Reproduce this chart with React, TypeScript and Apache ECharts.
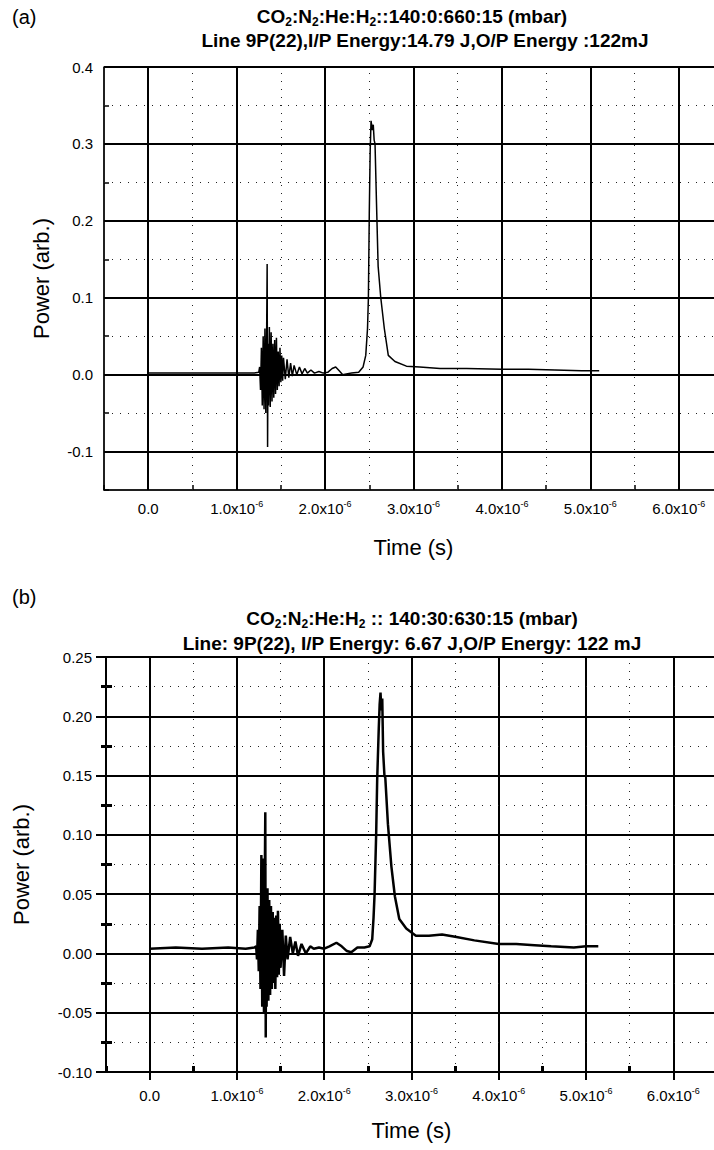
import React, { useEffect, useRef } from "react";
import * as echarts from "echarts";

// time values in microseconds (axis labels show them as n.0x10^-6 s)
const timeA = [
  0, 0.3, 0.6, 0.9, 1.1, 1.2, 1.25,
  1.26, 1.27, 1.28, 1.29, 1.3, 1.31, 1.32, 1.33, 1.34, 1.345, 1.35, 1.355, 1.36, 1.37,
  1.38, 1.39, 1.4, 1.41, 1.42, 1.43, 1.44, 1.45, 1.46, 1.47, 1.48, 1.49, 1.5, 1.51,
  1.52, 1.53, 1.55, 1.57, 1.59, 1.61, 1.63, 1.65, 1.68, 1.71, 1.74, 1.77, 1.8, 1.84,
  1.88, 1.93, 1.98, 2.03, 2.08, 2.12, 2.16, 2.2, 2.24, 2.3, 2.38, 2.43, 2.46, 2.48,
  2.49, 2.5, 2.51, 2.52, 2.535, 2.545, 2.555, 2.565, 2.58, 2.6, 2.63, 2.67, 2.715,
  2.79, 2.92, 3.07, 3.3, 3.6, 4.0, 4.3, 4.6, 4.9, 5.1,
];
const powerA = [
  0.002, 0.002, 0.002, 0.002, 0.002, 0.002, 0.003,
  0.01, -0.02, 0.035, -0.04, 0.05, -0.045, 0.06, -0.05, 0.065, 0.144, -0.094, 0.04, -0.04, 0.062,
  -0.042, 0.055, -0.035, 0.04, -0.03, 0.045, -0.025, 0.048, -0.02, 0.03, -0.015, 0.035, -0.01, 0.025,
  -0.008, 0.022, -0.006, 0.02, -0.004, 0.015, -0.002, 0.012, 0.0, 0.01, 0.001, 0.008, 0.002, 0.006,
  0.002, 0.004, 0.002, 0.003, 0.008, 0.01, 0.005, 0.0, 0.001, 0.002, 0.003, 0.01, 0.025, 0.06,
  0.1, 0.21, 0.29, 0.33, 0.318, 0.325, 0.305, 0.3, 0.23, 0.141, 0.1, 0.06, 0.025,
  0.017, 0.011, 0.01, 0.008, 0.008, 0.007, 0.007, 0.006, 0.005, 0.005,
];

const timeB = [
  0, 0.3, 0.6, 0.9, 1.1, 1.2,
  1.22, 1.23, 1.24, 1.25, 1.26, 1.27, 1.28, 1.29, 1.3, 1.31, 1.32, 1.325, 1.33, 1.335,
  1.34, 1.35, 1.36, 1.37, 1.38, 1.39, 1.4, 1.41, 1.42, 1.43, 1.44, 1.45, 1.46, 1.47,
  1.48, 1.49, 1.5, 1.52, 1.54, 1.56, 1.58, 1.61, 1.64, 1.67, 1.7, 1.74, 1.79, 1.84,
  1.88, 1.94, 2.0, 2.06, 2.14, 2.2, 2.26, 2.31, 2.38, 2.46, 2.52, 2.55, 2.565, 2.577,
  2.595, 2.607, 2.625, 2.635, 2.645, 2.655, 2.665, 2.675, 2.69, 2.7, 2.73, 2.77, 2.81,
  2.86, 2.94, 3.05, 3.2, 3.35, 3.5, 3.72, 4.0, 4.2, 4.41, 4.6, 4.86, 5.0, 5.14,
];
const powerB = [
  0.004, 0.005, 0.004, 0.005, 0.004, 0.005,
  0.006, -0.005, 0.02, -0.015, 0.04, -0.03, 0.083, -0.045, 0.08, -0.05, 0.07, 0.119, -0.071, 0.05,
  -0.045, 0.055, -0.04, 0.045, -0.035, 0.04, -0.03, 0.035, -0.025, 0.03, -0.03, 0.032, -0.02, 0.036,
  -0.018, 0.025, -0.012, 0.02, -0.019, 0.015, -0.005, 0.014, 0.0, 0.01, -0.002, 0.008, 0.0, 0.006,
  0.004, 0.005, 0.004, 0.006, 0.009, 0.006, 0.002, 0.001, 0.005, 0.005, 0.006, 0.012, 0.03, 0.05,
  0.1, 0.147, 0.19, 0.21, 0.22, 0.205, 0.215, 0.17, 0.15, 0.148, 0.109, 0.073, 0.048,
  0.029, 0.021, 0.015, 0.015, 0.016, 0.014, 0.011, 0.008, 0.008, 0.007, 0.006, 0.005, 0.006, 0.006,
];

// axis ticks (time in microseconds)
const xMajor = [0, 1, 2, 3, 4, 5, 6];
const xMinor = [-0.5, 0.5, 1.5, 2.5, 3.5, 4.5, 5.5, 6.5];
const yMajorA = [-0.1, 0.0, 0.1, 0.2, 0.3, 0.4];
const yMinorA = [-0.15, -0.05, 0.05, 0.15, 0.25, 0.35];
const yMajorB = [-0.1, -0.05, 0.0, 0.05, 0.1, 0.15, 0.2, 0.25];
const yMinorB = [-0.075, -0.025, 0.025, 0.075, 0.125, 0.175, 0.225];

const titleA1 = "{b|CO}{s|2}{b|:N}{s|2}{b|:He:H}{s|2}{b|::140:0:660:15 (mbar)}";
const titleA2 = "{b|Line 9P(22),I/P Energy:14.79 J,O/P Energy :122mJ}";
const titleB1 = "{b|CO}{s|2}{b|:N}{s|2}{b|:He:H}{s|2}{b| :: 140:30:630:15 (mbar)}";
const titleB2 = "{b|Line: 9P(22), I/P Energy: 6.67 J,O/P Energy: 122 mJ}";

const FONT = "'Liberation Sans', Arial, Helvetica, sans-serif";

const xLabelFmt = (v: number) => {
  const u = Math.round(v * 10) / 10;
  if (u === 0) return "{b|0.0}";
  return "{b|" + u.toFixed(1) + "x10}{sup|-6}";
};

const xRich = {
  b: { fontSize: 15, lineHeight: 18, color: "#000", fontFamily: FONT },
  sup: { fontSize: 9, verticalAlign: "top", color: "#000", fontFamily: FONT },
};

const titleRich = {
  b: { fontSize: 19, fontWeight: "bold", lineHeight: 24, color: "#000", fontFamily: FONT },
  s: { fontSize: 12, fontWeight: "bold", verticalAlign: "bottom", color: "#000", fontFamily: FONT },
};

function gridLines(xi: number, yMaj: number[], yMin: number[]) {
  const major = { color: "#000", width: 2, type: "solid" };
  const minor = { color: "#222", width: 1, type: [1, 7] };
  return {
    type: "line",
    xAxisIndex: xi,
    yAxisIndex: xi,
    data: [],
    showSymbol: false,
    silent: true,
    z: 1,
    markLine: {
      silent: true,
      symbol: ["none", "none"],
      label: { show: false },
      animation: false,
      precision: 4,
      data: [
        ...xMajor.map((v) => ({ xAxis: v, lineStyle: major })),
        ...xMinor.slice(1, -1).map((v) => ({ xAxis: v, lineStyle: minor })),
        ...yMaj.map((v) => ({ yAxis: v, lineStyle: major })),
        ...yMin.map((v) => ({ yAxis: v, lineStyle: minor })),
      ],
    },
  };
}

function buildOption() {
  const nameStyle = { fontSize: 22, color: "#000", fontFamily: FONT };
  return {
    animation: false,
    backgroundColor: "#fff",
    textStyle: { fontFamily: FONT, color: "#000" },
    grid: [
      { left: 104, top: 67, width: 619, height: 423, show: true, borderColor: "#000", borderWidth: 1 },
      { left: 106, top: 657, width: 611, height: 415, show: true, borderColor: "#000", borderWidth: 1.5 },
    ],
    xAxis: [
      {
        type: "value", gridIndex: 0, min: -0.5, max: 6.5, position: "bottom",
        axisLine: { show: true, onZero: false, lineStyle: { color: "#000", width: 1.5 } },
        axisTick: { show: true, inside: true, length: 5, customValues: [...xMajor, ...xMinor], lineStyle: { color: "#000", width: 1.5 } },
        axisLabel: { customValues: xMajor, formatter: xLabelFmt, rich: xRich, margin: 9 },
        splitLine: { show: false },
        name: "Time (s)", nameLocation: "middle", nameGap: 46, nameTextStyle: nameStyle,
      },
      {
        type: "value", gridIndex: 1, min: -0.5, max: 6.5, position: "bottom",
        axisLine: { show: true, onZero: false, lineStyle: { color: "#000", width: 2 } },
        axisTick: { show: true, inside: false, length: 8, customValues: xMajor, lineStyle: { color: "#000", width: 2 } },
        axisLabel: { customValues: xMajor, formatter: xLabelFmt, rich: xRich, margin: 14 },
        splitLine: { show: false },
        name: "Time (s)", nameLocation: "middle", nameGap: 47, nameTextStyle: nameStyle,
      },
      {
        type: "value", gridIndex: 1, min: -0.5, max: 6.5, position: "bottom",
        axisLine: { show: false, onZero: false },
        axisTick: { show: true, inside: true, length: 6, customValues: xMinor, lineStyle: { color: "#000", width: 3 } },
        axisLabel: { show: false },
        splitLine: { show: false },
      },
    ],
    yAxis: [
      {
        type: "value", gridIndex: 0, min: -0.15, max: 0.4, position: "left",
        axisLine: { show: true, onZero: false, lineStyle: { color: "#000", width: 1.5 } },
        axisTick: { show: true, inside: true, length: 5, customValues: [...yMajorA, ...yMinorA], lineStyle: { color: "#000", width: 1.5 } },
        axisLabel: { customValues: yMajorA, formatter: (v: number) => v.toFixed(1), fontSize: 15, color: "#000", margin: 11, fontFamily: FONT },
        splitLine: { show: false },
        name: "Power (arb.)", nameLocation: "middle", nameGap: 52, nameTextStyle: nameStyle,
      },
      {
        type: "value", gridIndex: 1, min: -0.1, max: 0.25, interval: 0.05, position: "left",
        axisLine: { show: true, onZero: false, lineStyle: { color: "#000", width: 2 } },
        axisTick: { show: true, inside: false, length: 10, lineStyle: { color: "#000", width: 2 } },
        minorTick: { show: true, splitNumber: 2, length: 5, lineStyle: { color: "#000", width: 3 } },
        axisLabel: { formatter: (v: number) => v.toFixed(2), fontSize: 15, color: "#000", margin: 14, fontFamily: FONT },
        splitLine: { show: false },
        name: "Power (arb.)", nameLocation: "middle", nameGap: 74, nameTextStyle: nameStyle,
      },
      {
        type: "value", gridIndex: 1, min: -0.1, max: 0.25, position: "left",
        axisLine: { show: false, onZero: false },
        axisTick: { show: true, inside: true, length: 6, customValues: yMinorB, lineStyle: { color: "#000", width: 3 } },
        axisLabel: { show: false },
        splitLine: { show: false },
      },
    ],
    graphic: [
      { type: "text", x: 12, y: 17, style: { text: "(a)", fontSize: 20, fontFamily: FONT, fill: "#000", align: "left", verticalAlign: "middle" } },
      { type: "text", x: 412, y: 16, style: { text: titleA1, rich: titleRich, align: "center", verticalAlign: "middle" } },
      { type: "text", x: 425, y: 40, style: { text: titleA2, rich: titleRich, align: "center", verticalAlign: "middle" } },
      { type: "text", x: 12, y: 597, style: { text: "(b)", fontSize: 20, fontFamily: FONT, fill: "#000", align: "left", verticalAlign: "middle" } },
      { type: "text", x: 412, y: 618, style: { text: titleB1, rich: titleRich, align: "center", verticalAlign: "middle" } },
      { type: "text", x: 412, y: 643, style: { text: titleB2, rich: titleRich, align: "center", verticalAlign: "middle" } },
    ],
    series: [
      gridLines(0, yMajorA, yMinorA.slice(1)),
      {
        type: "line", xAxisIndex: 0, yAxisIndex: 0, z: 5,
        data: timeA.map((t, i) => [t, powerA[i]]),
        showSymbol: false, symbol: "none",
        lineStyle: { color: "#000", width: 1.5 },
      },
      gridLines(1, yMajorB, yMinorB),
      {
        type: "line", xAxisIndex: 1, yAxisIndex: 1, z: 5,
        data: timeB.map((t, i) => [t, powerB[i]]),
        showSymbol: false, symbol: "none",
        lineStyle: { color: "#000", width: 2.5 },
      },
    ],
  };
}

export default function App() {
  const ref = useRef<HTMLDivElement>(null);
  useEffect(() => {
    if (!ref.current) return;
    const chart = echarts.init(ref.current, null, { renderer: "svg" });
    chart.setOption(buildOption() as any);
    return () => chart.dispose();
  }, []);
  return (
    <div style={{ position: "fixed", left: 0, top: 0, width: 714, height: 1150, overflow: "hidden", background: "#fff" }}>
      <div ref={ref} style={{ width: 724, height: 1150 }} />
    </div>
  );
}
